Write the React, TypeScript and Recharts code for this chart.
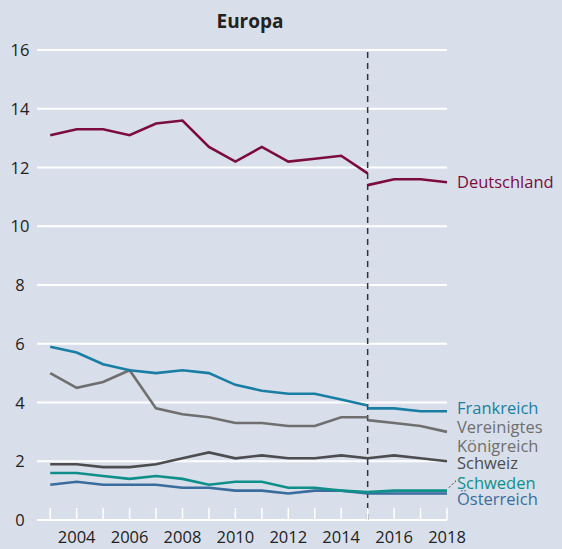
import { LineChart, Line, XAxis, YAxis, CartesianGrid, ReferenceLine } from "recharts";

const years = [2003, 2004, 2005, 2006, 2007, 2008, 2009, 2010, 2011, 2012, 2013, 2014, 2015, 2016, 2017, 2018];
const yTicks = [0, 2, 4, 6, 8, 10, 12, 14, 16];

// series before / after the 2015 break
const deutschlandAlt = [13.1, 13.3, 13.3, 13.1, 13.5, 13.6, 12.7, 12.2, 12.7, 12.2, 12.3, 12.4, 11.8];
const deutschlandNeu = [11.4, 11.6, 11.6, 11.5];
const frankreichAlt = [5.9, 5.7, 5.3, 5.1, 5.0, 5.1, 5.0, 4.6, 4.4, 4.3, 4.3, 4.1, 3.9];
const frankreichNeu = [3.8, 3.8, 3.7, 3.7];
const ukAlt = [5.0, 4.5, 4.7, 5.1, 3.8, 3.6, 3.5, 3.3, 3.3, 3.2, 3.2, 3.5, 3.5];
const ukNeu = [3.4, 3.3, 3.2, 3.0];
const schweiz = [1.9, 1.9, 1.8, 1.8, 1.9, 2.1, 2.3, 2.1, 2.2, 2.1, 2.1, 2.2, 2.1, 2.2, 2.1, 2.0];
const schweden = [1.6, 1.6, 1.5, 1.4, 1.5, 1.4, 1.2, 1.3, 1.3, 1.1, 1.1, 1.0, 0.95, 1.0, 1.0, 1.0];
const oesterreich = [1.2, 1.3, 1.2, 1.2, 1.2, 1.1, 1.1, 1.0, 1.0, 0.9, 1.0, 1.0, 0.9, 0.9, 0.9, 0.9];

const BREAK = 2015;

const data = years.map((year, i) => ({
  year,
  deAlt: year <= BREAK ? deutschlandAlt[i] : undefined,
  deNeu: year >= BREAK ? deutschlandNeu[i - 12] : undefined,
  frAlt: year <= BREAK ? frankreichAlt[i] : undefined,
  frNeu: year >= BREAK ? frankreichNeu[i - 12] : undefined,
  ukAlt: year <= BREAK ? ukAlt[i] : undefined,
  ukNeu: year >= BREAK ? ukNeu[i - 12] : undefined,
  ch: schweiz[i],
  se: schweden[i],
  at: oesterreich[i],
}));

const FONT = "'Open Sans', sans-serif";
const BG = "#d8dfea";

const C = {
  de: "#7b0c3d",
  fr: "#1a7ea4",
  uk: "#6f6f6f",
  ch: "#4d4d4f",
  se: "#0f8f8a",
  at: "#3a6d9e",
};

const XTick = ({ x, y, payload }: any) => {
  const yr = payload.value;
  return (
    <g>
      <line x1={x} x2={x} y1={y} y2={y - 12} stroke="#fff" strokeWidth={1.5} />
      {yr % 2 === 0 && (
        <text x={x} y={y + 23} textAnchor="middle" fontSize={16.5} fill="#222" fontFamily={FONT}>
          {yr}
        </text>
      )}
    </g>
  );
};

const YTick = ({ y, payload }: any) => (
  <text x={20} y={y + 6} textAnchor="middle" fontSize={16.5} fill="#222" fontFamily={FONT}>
    {payload.value}
  </text>
);

const endLabel = (lines: string[], color: string, dy: number, leader = false) => (props: any) => {
  const { x, y, index } = props;
  if (index !== years.length - 1) return null;
  return (
    <g>
      {leader && (
        <line x1={x + 2} y1={y - 3} x2={x + 9} y2={y - 10} stroke="#333" strokeWidth={1} strokeDasharray="2 2" />
      )}
      <text x={x + 10} y={y + dy} fontSize={16.5} fill={color} fontFamily={FONT}>
        {lines.map((l, k) => (
          <tspan key={k} x={x + 10} dy={k === 0 ? 0 : 19}>
            {l}
          </tspan>
        ))}
      </text>
    </g>
  );
};

export default function App() {
  const common = { type: "linear" as const, strokeWidth: 2.6, dot: false, isAnimationActive: false, activeDot: false };
  return (
    <div style={{ width: 562, height: 549, background: BG, position: "relative" }}>
      <style>{`body{margin:0}`}</style>
      <div
        style={{
          position: "absolute",
          top: 8,
          left: 0,
          width: 500,
          textAlign: "center",
          fontFamily: FONT,
          fontWeight: 700,
          fontSize: 19,
          color: "#222",
        }}
      >
        Europa
      </div>
      <LineChart width={562} height={549} data={data} margin={{ top: 50, right: 115, bottom: 0, left: 0 }}>
        <CartesianGrid vertical={false} stroke="#fff" strokeWidth={2} />
        <XAxis
          dataKey="year"
          type="number"
          domain={[2002.5, 2018]}
          ticks={years}
          interval={0}
          axisLine={false}
          tickLine={false}
          tickSize={0}
          tickMargin={0}
          height={29}
          tick={<XTick />}
        />
        <YAxis
          domain={[0, 16]}
          ticks={yTicks}
          interval={0}
          axisLine={false}
          tickLine={false}
          width={37}
          tick={<YTick />}
        />
        <ReferenceLine x={BREAK} stroke="#333" strokeWidth={1.5} strokeDasharray="6 5" />
        <Line {...common} dataKey="deAlt" stroke={C.de} />
        <Line {...common} dataKey="deNeu" stroke={C.de} label={endLabel(["Deutschland"], C.de, 6)} />
        <Line {...common} dataKey="ukAlt" stroke={C.uk} />
        <Line {...common} dataKey="ukNeu" stroke={C.uk} label={endLabel(["Vereinigtes", "Königreich"], C.uk, 1)} />
        <Line {...common} dataKey="frAlt" stroke={C.fr} />
        <Line {...common} dataKey="frNeu" stroke={C.fr} label={endLabel(["Frankreich"], C.fr, 3)} />
        <Line {...common} dataKey="ch" stroke={C.ch} label={endLabel(["Schweiz"], C.ch, 8)} />
        <Line {...common} dataKey="at" stroke={C.at} label={endLabel(["Österreich"], C.at, 11)} />
        <Line {...common} dataKey="se" stroke={C.se} label={endLabel(["Schweden"], C.se, -2, true)} />
      </LineChart>
    </div>
  );
}
